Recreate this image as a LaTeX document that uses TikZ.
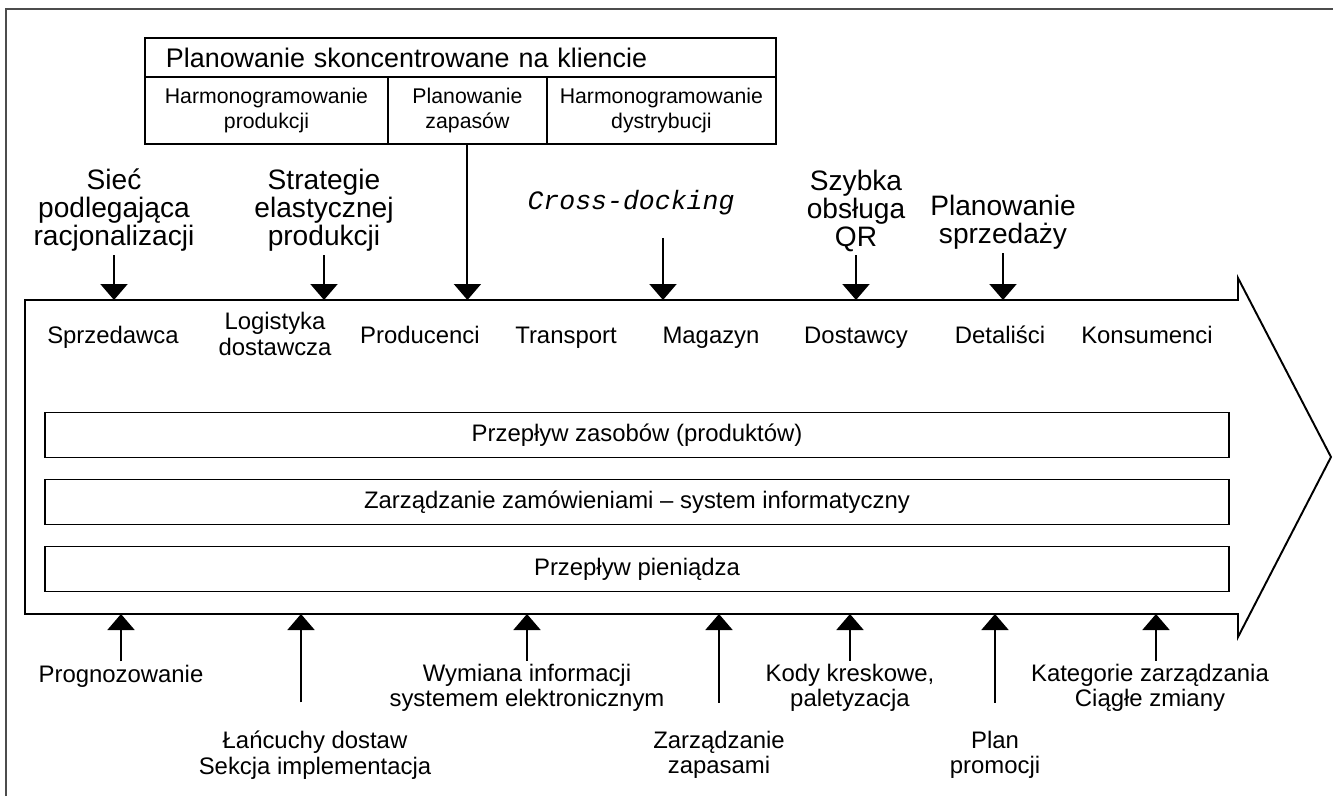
\documentclass[tikz,border=0pt]{standalone}
\usepackage{fontspec}
\setmainfont{Liberation Sans}
\setmonofont{Liberation Mono}
\usetikzlibrary{arrows.meta,positioning}

\newcommand{\etyk}{\fontsize{13.6}{15}\selectfont}
\newcommand{\nagl}{\fontsize{16}{15.9}\selectfont}

\begin{document}
\begin{tikzpicture}[x=0.02cm, y=-0.02cm,
    every node/.style={inner sep=2pt, outer sep=0pt},
    ramka/.style={draw, line width=1.1pt},
    komorka/.style={ramka, minimum height=1.34cm, align=center, font=\fontsize{12.1}{14.2}\selectfont},
    pas/.style={ramka, minimum width=23.68cm, minimum height=0.9cm, font=\etyk},
    etap/.style={align=center, font=\etyk},
    etap1/.style={etap, text height=0.75em, text depth=0.22em},
    wplyw/.style={align=center, anchor=south, font=\nagl},
    opis/.style={align=center, font=\fontsize{13.6}{14.5}\selectfont},
    pil/.style={line width=1.1pt, -{Triangle[width=0.54cm, length=0.32cm]}}]
    \useasboundingbox (0,0) rectangle (1333,796);
    \draw[gray!60!black, line width=0.8pt] (6,796) -- (6,9) -- (1333,9);

    % wielka strzalka lancucha dostaw
    \draw[ramka] (25,300) -- (1238,300) -- (1238,278) -- (1331,457) -- (1238,637) -- (1238,614) -- (25,614) -- cycle;
    \coordinate (gora) at (25,300);
    \coordinate (dol) at (25,614);

    % planowanie
    \node[ramka, anchor=north west, minimum height=0.78cm, text width=11.78cm, inner xsep=0.42cm, align=left, font=\fontsize{15.3}{18}\selectfont] (plan) at (145,38) {Planowanie skoncentrowane na kliencie};
    \node[komorka, minimum width=4.86cm, below right=0pt and 0pt of plan.south west] (harmprod) {Harmonogramowanie\\produkcji};
    \node[komorka, minimum width=3.18cm, right=0pt of harmprod] (zapasy) {Planowanie\\zapasów};
    \node[komorka, minimum width=4.58cm, right=0pt of zapasy] (harmdys) {Harmonogramowanie\\dystrybucji};
    \draw[pil] (zapasy) -- (zapasy |- gora);

    % czynniki od gory
    \node[wplyw] (siec) at (114,255) {Sieć\\podlegająca\\racjonalizacji};
    \node[wplyw] (strat) at (324,255) {Strategie\\elastycznej\\produkcji};
    \node[font=\fontsize{15.1}{18}\selectfont\ttfamily\itshape] (cross) at (631,203) {Cross-docking};
    \node[wplyw] (szybka) at (856,255) {Szybka\\obsługa\\QR};
    \node[wplyw] (sprzplan) at (1003,253) {Planowanie\\sprzedaży};
    \draw[pil] (siec) -- (siec |- gora);
    \draw[pil] (strat) -- (strat |- gora);
    \draw[pil, shorten <=0.38cm] ([xshift=0.64cm]cross.south) -- ([xshift=0.64cm]cross.south |- gora);
    \draw[pil] (szybka) -- (szybka |- gora);
    \draw[pil] (sprzplan) -- (sprzplan |- gora);

    % ogniwa
    \node[etap1] (sprzed) at (113,339) {Sprzedawca};
    \node[etap] (logist) at (275,334) {Logistyka\\dostawcza};
    \node[etap1] (prod) at (420,339) {Producenci};
    \node[etap1] (trans) at (566,339) {Transport};
    \node[etap1] (mag) at (711,339) {Magazyn};
    \node[etap1] (dost) at (856,339) {Dostawcy};
    \node[etap1] (detal) at (1000,339) {Detaliści};
    \node[etap1] (kons) at (1147,339) {Konsumenci};

    % przeplywy
    \node[pas] (zasoby) at (637,435) {Przepływ zasobów (produktów)};
    \node[pas, below=0.44cm of zasoby] (zamow) {Zarządzanie zamówieniami – system informatyczny};
    \node[pas, below=0.44cm of zamow] (pieniadz) {Przepływ pieniądza};

    % czynniki od dolu
    \node[opis] (prog) at (121,676) {Prognozowanie};
    \node[opis] (lanc) at (315,755) {Łańcuchy dostaw\\Sekcja implementacja};
    \node[opis] (wym) at (527,688) {Wymiana informacji\\systemem elektronicznym};
    \node[opis] (zarz) at (719,755) {Zarządzanie\\zapasami};
    \node[opis] (kody) at (850,688) {Kody kreskowe,\\paletyzacja};
    \node[opis] (promo) at (995,755) {Plan\\promocji};
    \node[opis] (kat) at (1150,688) {Kategorie zarządzania\\Ciągłe zmiany};
    \draw[pil] (prog) -- (prog |- dol);
    \draw[pil, shorten <=0.5cm] ([xshift=-0.28cm]lanc.north) -- ([xshift=-0.28cm]lanc.north |- dol);
    \draw[pil] (wym) -- (wym |- dol);
    \draw[pil, shorten <=0.5cm] (zarz) -- (zarz |- dol);
    \draw[pil] (kody) -- (kody |- dol);
    \draw[pil, shorten <=0.5cm] (promo) -- (promo |- dol);
    \draw[pil] ([xshift=0.12cm]kat.north) -- ([xshift=0.12cm]kat.north |- dol);
\end{tikzpicture}
\end{document}
